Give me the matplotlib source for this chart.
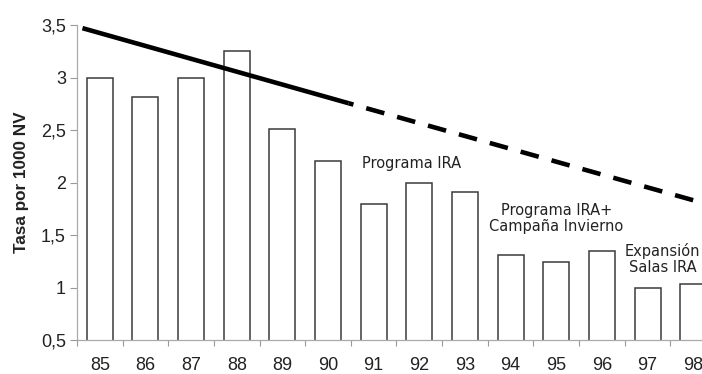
import matplotlib
matplotlib.use("Agg")
import matplotlib.pyplot as plt
import numpy as np
from matplotlib.ticker import FixedLocator, FuncFormatter

years = ["85", "86", "87", "88", "89", "90", "91", "92", "93", "94", "95", "96", "97", "98"]
rates = [3.0, 2.81, 3.0, 3.25, 2.51, 2.20, 1.80, 2.00, 1.91, 1.31, 1.24, 1.35, 1.00, 1.03]
# trend line (x in category index units), solid then dashed projection
trend_solid_x = [-0.38, 5.45]
trend_solid_y = [3.47, 2.755]
trend_dash_x = [5.45, 13.5]
trend_dash_y = [2.755, 1.77]
notes = ["Programa IRA", "Programa IRA+\nCampaña Invierno", "Expansión\nSalas IRA"]
note_x = [6.83, 10.0, 12.33]
note_y = [2.18, 1.66, 1.27]

plt.rcParams['font.family'] = ['Liberation Sans', 'DejaVu Sans']

W, H = 702, 374
fig = plt.figure(figsize=(W / 100, H / 100), dpi=100)
ax = fig.add_axes([77 / W, 34 / H, (716 - 77) / W, 315 / H])

x = np.arange(len(years))
ax.bar(x, rates, width=0.57, bottom=0, color="white", edgecolor="#3a3a3a", linewidth=1.1, zorder=2)

ax.plot(trend_solid_x, trend_solid_y, color="black", linewidth=3.3, solid_capstyle="butt", zorder=3)
ax.plot(trend_dash_x, trend_dash_y, color="black", linewidth=3.3, linestyle=(3.0, (4.1, 2.9)),
        dash_capstyle="butt", zorder=3)

for t, tx, ty in zip(notes, note_x, note_y):
    ax.text(tx, ty, t, ha="center", va="center", fontsize=10.5, family=['DejaVu Sans'],
            color="#222222", linespacing=1.1)

ax.set_xlim(-0.5, len(years) - 0.5)
ax.set_ylim(0.5, 3.5)
ax.set_yticks([0.5, 1, 1.5, 2, 2.5, 3, 3.5])
ax.yaxis.set_major_formatter(FuncFormatter(lambda v, p: (f"{v:g}").replace(".", ",")))
ax.set_xticks(x)
ax.set_xticklabels(years)
ax.xaxis.set_minor_locator(FixedLocator(np.arange(-0.5, len(years), 1.0)))
ax.tick_params(axis="x", which="major", length=0, pad=12, labelsize=13, colors="#222222")
ax.tick_params(axis="x", which="minor", length=4, width=0.8, color="#999999")
ax.tick_params(axis="y", which="major", length=5, width=0.8, color="#999999", pad=3,
               labelsize=13, labelcolor="#222222")

for s in ["top", "right"]:
    ax.spines[s].set_visible(False)
for s in ["left", "bottom"]:
    ax.spines[s].set_color("#aaaaaa")
    ax.spines[s].set_linewidth(0.9)

ax.set_ylabel("Tasa por 1000 NV", fontsize=12.3, fontweight="bold", color="#222222")
ax.yaxis.set_label_coords(-48 / (716 - 77), 0.5)

fig.savefig("out.png", dpi=100)
